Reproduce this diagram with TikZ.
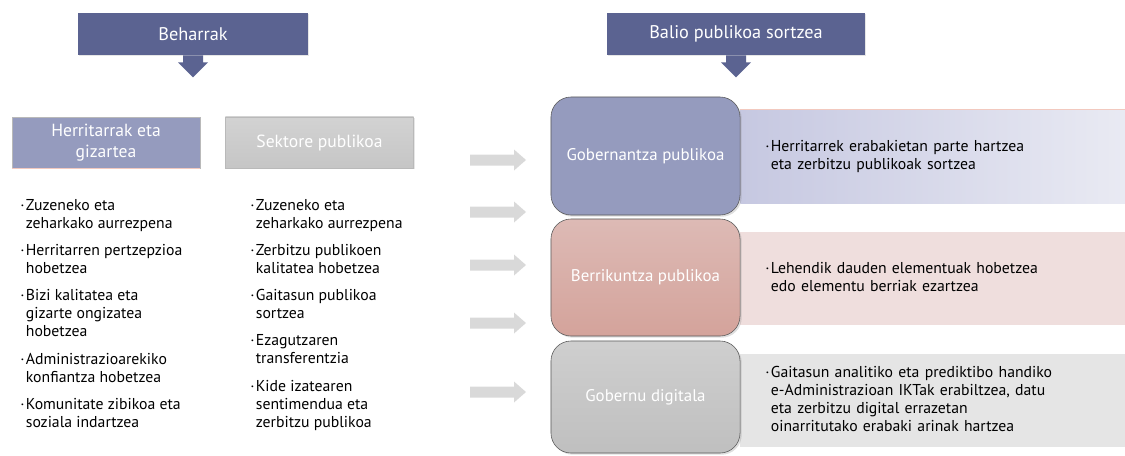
\documentclass[tikz,border=0pt]{standalone}
\usepackage{fontspec}
\setmainfont{PT Sans}
\usetikzlibrary{positioning, calc, shadows}

\definecolor{hdrblue}{HTML}{5B6391}
\definecolor{herriblue}{HTML}{959BBE}
\definecolor{arrgray}{HTML}{D9D9D9}
\definecolor{salmon}{HTML}{F2C9BF}
\definecolor{pinktop}{HTML}{DDBAB5}
\definecolor{pinkbot}{HTML}{D4A39B}
\definecolor{bandblueL}{HTML}{C6C8E1}
\definecolor{bandblueR}{HTML}{E9EAF3}
\definecolor{bandpink}{HTML}{EFDEDD}
\definecolor{bandgray}{HTML}{E5E5E5}

\tikzset{
  hdr/.style={rectangle, fill=hdrblue, text=white, minimum height=1.05cm,
              font=\fontsize{13}{15}\selectfont,
              drop shadow={opacity=0.2, shadow xshift=1pt, shadow yshift=-1pt}},
  cat/.style={rectangle, draw=gray!55, minimum width=4.7cm, minimum height=1.275cm,
              align=center, text=white, font=\fontsize{12.5}{14.5}\selectfont},
  area/.style={rectangle, rounded corners=0.5cm, draw=gray!70!black,
               minimum width=4.725cm, text=white, font=\fontsize{12}{14}\selectfont,
               drop shadow={opacity=0.25, shadow xshift=1.2pt, shadow yshift=-1.2pt}},
  band/.style={rectangle, minimum width=9.625cm, minimum height=2.325cm,
               anchor=west, inner xsep=0.625cm, text width=8.375cm, align=left,
               font=\fontsize{11.2}{12.8}\selectfont},
  blist/.style={anchor=north west, inner sep=0pt, align=left,
                font=\fontsize{11.2}{12.8}\selectfont},
}

\begin{document}
\begin{tikzpicture}[x=0.025cm, y=-0.025cm]
  \useasboundingbox (0,0) rectangle (1125,455);

  % headers
  \node[hdr, minimum width=5.75cm] (hdrL) at (193,34) {Beharrak};
  \node[hdr, minimum width=6.45cm] (hdrR) at (736,34) {Balio publikoa sortzea};
  \foreach \h in {hdrL, hdrR}
    \fill[hdrblue] (\h.south) ++(-10,0) -- ++(0,7) -- ++(-5,0) -- ++(15,15)
      -- ++(15,-15) -- ++(-5,0) -- ++(0,-7) -- cycle;

  % needs
  \node[cat, fill=herriblue] (herri) at (106,142.5) {Herritarrak eta\\gizartea};
  \draw[salmon, thick] (herri.south west) -- (herri.south east);
  \node[cat, top color=gray!35, bottom color=gray!45,
        drop shadow={opacity=0.2, shadow xshift=1pt, shadow yshift=-1pt}]
    (sekt) at (319.5,142.5) {Sektore publikoa};

  \node[blist] (listL) at (20,197.5) {%
    \begin{tabular}{@{}l@{\hspace{1pt}}l@{}}
    · & Zuzeneko eta\\ & zeharkako aurrezpena\\[0.24cm]
    · & Herritarren pertzepzioa\\ & hobetzea\\[0.22cm]
    · & Bizi kalitatea eta\\ & gizarte ongizatea\\ & hobetzea\\[0.24cm]
    · & Administrazioarekiko\\ & konfiantza hobetzea\\[0.24cm]
    · & Komunitate zibikoa eta\\ & soziala indartzea
    \end{tabular}};
  \node[blist] (listR) at (250,197.5) {%
    \begin{tabular}{@{}l@{\hspace{1pt}}l@{}}
    · & Zuzeneko eta\\ & zeharkako aurrezpena\\[0.24cm]
    · & Zerbitzu publikoen\\ & kalitatea hobetzea\\[0.22cm]
    · & Gaitasun publikoa\\ & sortzea\\[0.23cm]
    · & Ezagutzaren\\ & transferentzia\\[0.23cm]
    · & Kide izatearen\\ & sentimendua eta\\ & zerbitzu publikoa
    \end{tabular}};

  % gray arrows
  \foreach \ay in {160,212,265,323,392}
    \fill[arrgray] (470,\ay-5.5) -- (514,\ay-5.5) -- (514,\ay-10.5) -- (526,\ay)
      -- (514,\ay+10.5) -- (514,\ay+5.5) -- (470,\ay+5.5) -- cycle;

  % description bands
  \node[band, left color=bandblueL, right color=bandblueR] (band1) at (740,156.5)
    {\begin{tabular}{@{}l@{\hspace{1pt}}l@{}}
     · & Herritarrek erabakietan parte hartzea\\ & eta zerbitzu publikoak sortzea
     \end{tabular}};
  \draw[salmon] (band1.north west) -- (band1.north east);
  \node[band, fill=bandpink] (band2) at (740,278.5)
    {\begin{tabular}{@{}l@{\hspace{1pt}}l@{}}
     · & Lehendik dauden elementuak hobetzea\\ & edo elementu berriak ezartzea
     \end{tabular}};
  \node[band, fill=bandgray] (band3) at (740,400.5)
    {\begin{tabular}{@{}l@{\hspace{1pt}}l@{}}
     · & Gaitasun analitiko eta prediktibo handiko\\
       & e-Administrazioan IKTak erabiltzea, datu\\
       & eta zerbitzu digital errazetan\\
       & oinarritutako erabaki arinak hartzea
     \end{tabular}};

  % value areas
  \node[area, fill=herriblue, minimum height=2.95cm] (gob) at (645.5,156) {Gobernantza publikoa};
  \node[area, top color=pinktop, bottom color=pinkbot, minimum height=2.925cm]
    (berr) at (645.5,277.5) {Berrikuntza publikoa};
  \node[area, top color=gray!38, bottom color=gray!50, minimum height=2.8cm]
    (gdig) at (645.5,397) {Gobernu digitala};
\end{tikzpicture}
\end{document}
